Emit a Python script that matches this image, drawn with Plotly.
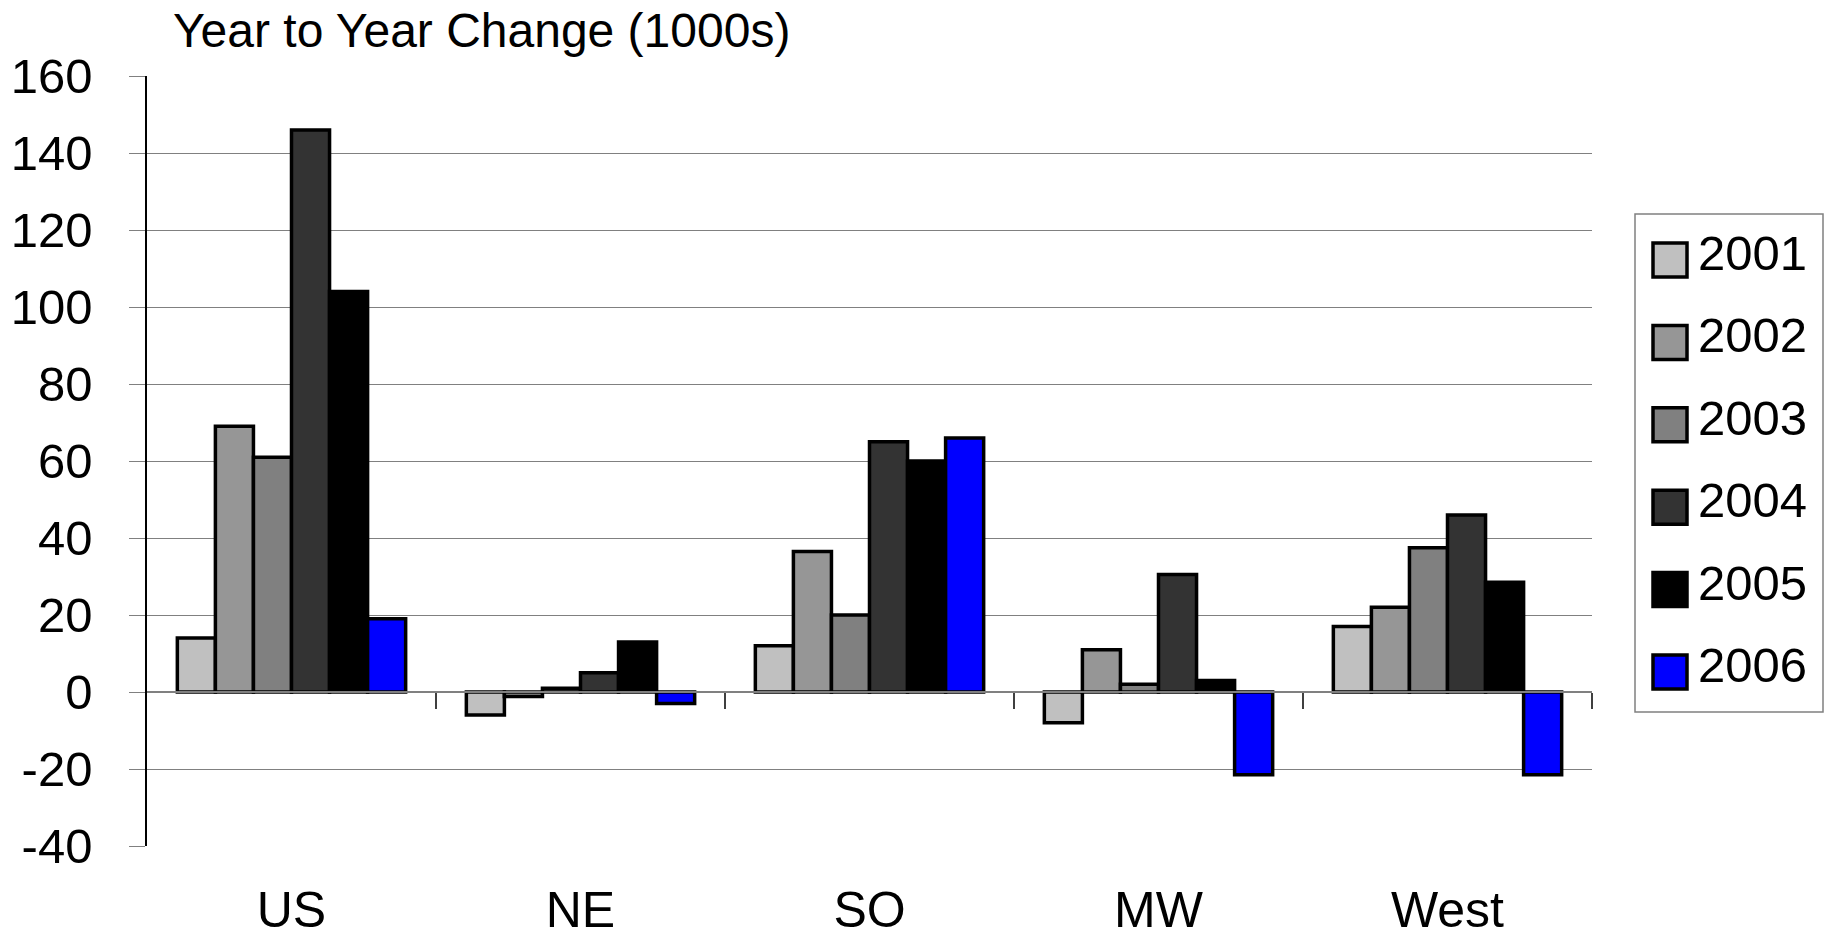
import plotly.graph_objects as go

# Regions and yearly change values (thousands)
regions = ["US", "NE", "SO", "MW", "West"]
years = ["2001", "2002", "2003", "2004", "2005", "2006"]
chg_2001 = [14, -6, 12, -8, 17]
chg_2002 = [69, -1.2, 36.5, 11, 22]
chg_2003 = [61, 1, 20, 2, 37.5]
chg_2004 = [146, 5, 65, 30.5, 46]
chg_2005 = [104, 13, 60, 3, 28.5]
chg_2006 = [19, -3, 66, -21.5, -21.5]
series = [chg_2001, chg_2002, chg_2003, chg_2004, chg_2005, chg_2006]
colors = ["#C0C0C0", "#969696", "#808080", "#333333", "#000000", "#0000FF"]
y_ticks = [-40, -20, 0, 20, 40, 60, 80, 100, 120, 140, 160]
y_tick_text = ["-40", "-20", "0", "20", "40", "60", "80", "100", "120", "140", "160"]

FONT = "Liberation Sans, Arial, sans-serif"
W, H = 1830, 941
L, R, T, B = 147, 1592, 76, 846  # plot area in pixels

fig = go.Figure()
for name, vals, col in zip(years, series, colors):
    fig.add_trace(go.Bar(
        x=regions, y=vals, name=name, showlegend=False,
        marker=dict(color=col, line=dict(color="black", width=3.5)),
    ))

# invisible trace that carries the zero-line category axis
fig.add_trace(go.Scatter(x=[0], y=[None], xaxis="x2", showlegend=False,
                         hoverinfo="skip", mode="markers"))

def px_x(p):
    return (p - L) / (R - L)

def px_y(p):
    return (B - p) / (B - T)

# legend drawn as a framed box with swatches
shapes = [dict(type="rect", xref="paper", yref="paper",
               x0=px_x(1635), x1=px_x(1823), y0=px_y(712), y1=px_y(214),
               line=dict(color="#808080", width=1.5), fillcolor="white")]
annotations = []
for i, (name, col) in enumerate(zip(years, colors)):
    cy = 260 + i * 82.4
    shapes.append(dict(type="rect", xref="paper", yref="paper",
                       x0=px_x(1653), x1=px_x(1687),
                       y0=px_y(cy + 17), y1=px_y(cy - 17),
                       fillcolor=col, line=dict(color="black", width=3.5)))
    annotations.append(dict(xref="paper", yref="paper", x=px_x(1696), y=px_y(cy - 7),
                            xanchor="left", yanchor="middle", text=name,
                            showarrow=False,
                            font=dict(family=FONT, size=49, color="black")))

annotations.append(dict(xref="paper", yref="paper", x=px_x(171), y=px_y(30),
                        xanchor="left", yanchor="middle",
                        text="Year to Year Change (1000s)", showarrow=False,
                        font=dict(family=FONT, size=48, color="black")))

fig.update_layout(
    width=W, height=H,
    margin=dict(l=L, r=W - R, t=T, b=H - B, pad=0, autoexpand=False),
    paper_bgcolor="white", plot_bgcolor="white",
    barmode="group", bargap=0.21, bargroupgap=0,
    font=dict(family=FONT, size=49, color="black"),
    shapes=shapes, annotations=annotations,
    xaxis=dict(type="category", range=[-0.5, 4.5], showline=False,
               showgrid=False, zeroline=False, ticks="", automargin=False,
               ticklabelstandoff=30,
               tickfont=dict(family=FONT, size=50, color="black")),
    xaxis2=dict(overlaying="x", anchor="free", position=0.2, range=[-0.5, 4.5],
                tickvals=[0.5, 1.5, 2.5, 3.5, 4.5], ticks="outside", ticklen=16,
                tickcolor="#404040", tickwidth=1.5, automargin=False,
                showticklabels=False, showgrid=False, zeroline=False,
                showline=True, linecolor="#808080", linewidth=1.5),
    yaxis=dict(range=[-40, 160], tickvals=y_ticks, ticktext=y_tick_text,
               showgrid=True, automargin=False,
               gridcolor="#808080", gridwidth=1.2, zeroline=False,
               showline=True, linecolor="black", linewidth=1.5,
               ticks="outside", ticklen=16, tickcolor="#808080",
               ticklabelstandoff=27,
               tickfont=dict(family=FONT, size=49, color="black")),
)

fig.write_html("out.html")
